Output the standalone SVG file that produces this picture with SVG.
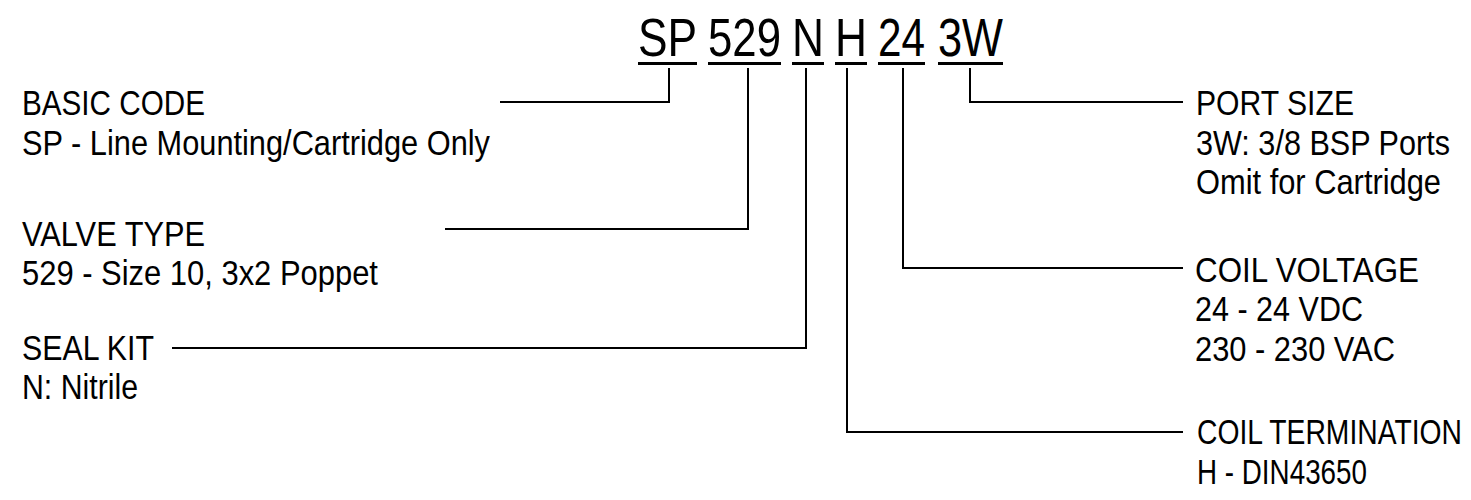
<svg xmlns="http://www.w3.org/2000/svg" width="1471" height="500" viewBox="0 0 1471 500">
<style>
text{font-family:"Liberation Sans",Arial,sans-serif;fill:#000}
.code{font-size:53px}
.lbl{font-size:36px}
.ul{stroke:#000;stroke-width:3}
.conn{fill:none;stroke:#000;stroke-width:2}
</style>
<rect width="1471" height="500" fill="#fff"/>
<g id="code">
<text class="code" transform="translate(638,56) scale(0.82,1)" textLength="72" lengthAdjust="spacingAndGlyphs">SP</text>
<text class="code" transform="translate(708,56) scale(0.82,1)" textLength="89" lengthAdjust="spacingAndGlyphs">529</text>
<text class="code" transform="translate(792,56) scale(0.82,1)" textLength="39" lengthAdjust="spacingAndGlyphs">N</text>
<text class="code" transform="translate(835,56) scale(0.82,1)" textLength="39" lengthAdjust="spacingAndGlyphs">H</text>
<text class="code" transform="translate(878,56) scale(0.82,1)" textLength="57.3" lengthAdjust="spacingAndGlyphs">24</text>
<text class="code" transform="translate(938,56) scale(0.82,1)" textLength="79.3" lengthAdjust="spacingAndGlyphs">3W</text>
<line class="ul" x1="638" y1="63.5" x2="697" y2="63.5"/>
<line class="ul" x1="708" y1="63.5" x2="781" y2="63.5"/>
<line class="ul" x1="792" y1="63.5" x2="824" y2="63.5"/>
<line class="ul" x1="835" y1="63.5" x2="867" y2="63.5"/>
<line class="ul" x1="878" y1="63.5" x2="925" y2="63.5"/>
<line class="ul" x1="938" y1="63.5" x2="1003" y2="63.5"/>
</g>
<g id="connectors">
<polyline class="conn" points="669,68 669,102 500,102"/>
<polyline class="conn" points="748,68 748,229 445,229"/>
<polyline class="conn" points="806,68 806,348 172,348"/>
<polyline class="conn" points="847,68 847,432 1183,432"/>
<polyline class="conn" points="903,68 903,268 1183,268"/>
<polyline class="conn" points="970,68 970,102 1183,102"/>
</g>
<g id="basic-code">
<text class="lbl" transform="translate(22,115) scale(0.82,1)" textLength="223.2" lengthAdjust="spacingAndGlyphs">BASIC CODE</text>
<text class="lbl" transform="translate(22,155) scale(0.82,1)" textLength="570.7" lengthAdjust="spacingAndGlyphs">SP - Line Mounting/Cartridge Only</text>
</g>
<g id="valve-type">
<text class="lbl" transform="translate(22,246) scale(0.82,1)" textLength="223.2" lengthAdjust="spacingAndGlyphs">VALVE TYPE</text>
<text class="lbl" transform="translate(22,285) scale(0.82,1)" textLength="434.1" lengthAdjust="spacingAndGlyphs">529 - Size 10, 3x2 Poppet</text>
</g>
<g id="seal-kit">
<text class="lbl" transform="translate(22,360) scale(0.82,1)" textLength="161" lengthAdjust="spacingAndGlyphs">SEAL KIT</text>
<text class="lbl" transform="translate(22,399) scale(0.82,1)" textLength="141.5" lengthAdjust="spacingAndGlyphs">N: Nitrile</text>
</g>
<g id="port-size">
<text class="lbl" transform="translate(1196,115) scale(0.82,1)" textLength="192.7" lengthAdjust="spacingAndGlyphs">PORT SIZE</text>
<text class="lbl" transform="translate(1196,155) scale(0.82,1)" textLength="309.8" lengthAdjust="spacingAndGlyphs">3W: 3/8 BSP Ports</text>
<text class="lbl" transform="translate(1196,194) scale(0.82,1)" textLength="298.8" lengthAdjust="spacingAndGlyphs">Omit for Cartridge</text>
</g>
<g id="coil-voltage">
<text class="lbl" transform="translate(1195,282) scale(0.82,1)" textLength="273.2" lengthAdjust="spacingAndGlyphs">COIL VOLTAGE</text>
<text class="lbl" transform="translate(1195,321) scale(0.82,1)" textLength="204.9" lengthAdjust="spacingAndGlyphs">24 - 24 VDC</text>
<text class="lbl" transform="translate(1195,361) scale(0.82,1)" textLength="243.9" lengthAdjust="spacingAndGlyphs">230 - 230 VAC</text>
</g>
<g id="coil-termination">
<text class="lbl" transform="translate(1197,444) scale(0.82,1)" textLength="323.2" lengthAdjust="spacingAndGlyphs">COIL TERMINATION</text>
<text class="lbl" transform="translate(1197,484) scale(0.82,1)" textLength="207.3" lengthAdjust="spacingAndGlyphs">H - DIN43650</text>
</g>
</svg>
